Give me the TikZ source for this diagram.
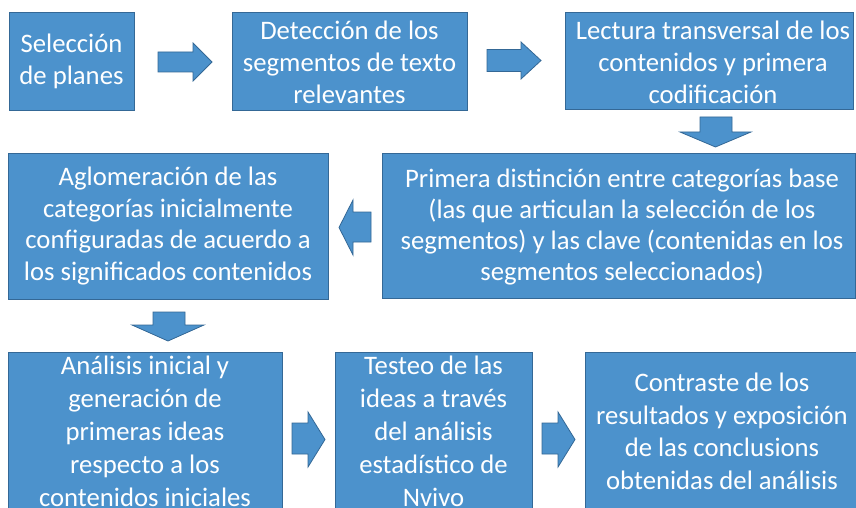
\documentclass[tikz,border=0pt]{standalone}
\usepackage{fontspec}
\setmainfont{Carlito}
\definecolor{boxblue}{RGB}{76,146,204}
\definecolor{boxedge}{RGB}{52,104,150}
\tikzset{
  x=1pt,y=1pt,
  stepbox/.style={draw=boxedge,line width=0.8pt,fill=boxblue},
  steptext/.style={text=white,align=center,font=\fontsize{26.7}{32}\selectfont,inner sep=0pt},
  blockarrow/.style={draw=boxedge,line width=0.8pt,fill=boxblue,line join=miter}
}
\begin{document}
\begin{tikzpicture}
\useasboundingbox (0,0) rectangle (856,507);
\clip (0,0) rectangle (856,507);
\fill[white] (0,0) rectangle (856,507);
% row 1 (image y -> tikz y = 507 - y)
\draw[stepbox] (9,397) rectangle (134,495);
\node[steptext] (b1) at (71.5,446) {Selección\\de planes};
\draw[stepbox] (232,397) rectangle (467,495);
\node[steptext] (b2) at (349.5,444.5) {Detección de los\\segmentos de texto\\relevantes};
\draw[stepbox] (565,398) rectangle (853,495);
\node[steptext] (b3) at (713,444.5) {Lectura transversal de los\\contenidos y primera\\codificación};
% row 2
\draw[stepbox] (8,208) rectangle (328,354);
\node[steptext,font=\fontsize{26.7}{31.5}\selectfont] (b4) at (168,281) {Aglomeración de las\\categorías inicialmente\\configuradas de acuerdo a\\los significados contenidos};
\draw[stepbox] (382,209) rectangle (855,354);
\node[steptext,font=\fontsize{26.7}{31}\selectfont] (b5) at (622,280) {Primera distinción entre categorías base\\(las que articulan la selección de los\\segmentos) y las clave (contenidas en los\\segmentos seleccionados)};
% row 3
\draw[stepbox] (8,-6) rectangle (282,155);
\node[steptext,font=\fontsize{26.7}{33}\selectfont] (b6) at (145,75.5) {Análisis inicial y\\generación de\\primeras ideas\\respecto a los\\contenidos iniciales};
\draw[stepbox] (335,-6) rectangle (532,155);
\node[steptext,font=\fontsize{26.7}{33}\selectfont] (b7) at (433.5,75.5) {Testeo de las\\ideas a través\\del análisis\\estadístico de\\Nvivo};
\draw[stepbox] (585,-6) rectangle (860,155);
\node[steptext,font=\fontsize{26.7}{32.5}\selectfont] (b8) at (722,75.5) {Contraste de los\\resultados y exposición\\de las conclusions\\obtenidas del análisis};
% block arrows
\draw[blockarrow] (158,455) -- (193,455) -- (193,464) -- (212,445) -- (193,426) -- (193,435) -- (158,435) -- cycle;
\draw[blockarrow] (487,457.5) -- (521,457.5) -- (521,465) -- (541,446.5) -- (521,428) -- (521,435.5) -- (487,435.5) -- cycle;
\draw[blockarrow] (700,390) -- (700,375) -- (680,375) -- (715.5,360) -- (751,375) -- (732,375) -- (732,390) -- cycle;
\draw[blockarrow] (371,295) -- (353,295) -- (353,307) -- (339,279.5) -- (353,252) -- (353,265) -- (371,265) -- cycle;
\draw[blockarrow] (153,195) -- (153,182) -- (132,182) -- (168,166) -- (204,182) -- (185,182) -- (185,195) -- cycle;
\draw[blockarrow] (292,84) -- (308,84) -- (308,95) -- (325,67.5) -- (308,40) -- (308,53) -- (292,53) -- cycle;
\draw[blockarrow] (542,84) -- (558,84) -- (558,95) -- (575,67.5) -- (558,40) -- (558,53) -- (542,53) -- cycle;
\end{tikzpicture}
\end{document}
